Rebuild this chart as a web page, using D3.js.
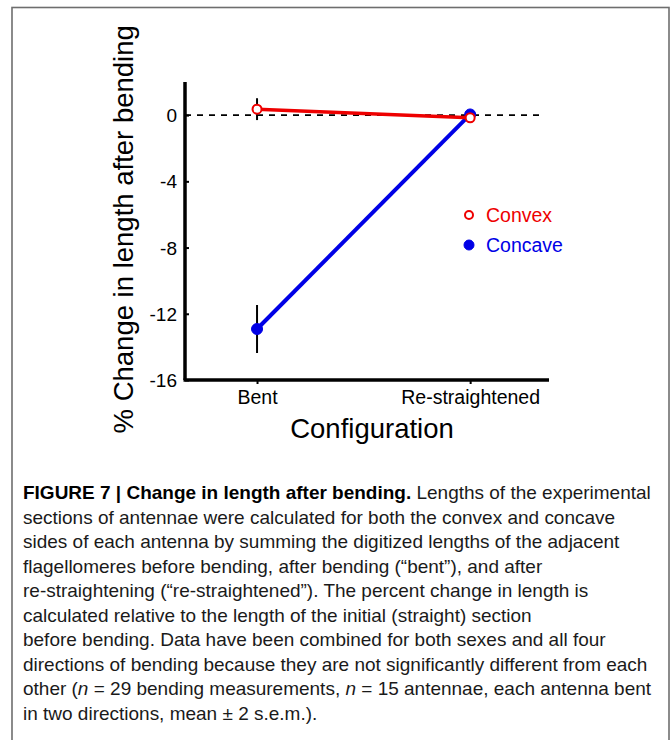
<!DOCTYPE html>
<html>
<head>
<meta charset="utf-8">
<script src="https://cdn.jsdelivr.net/npm/d3@7"></script>
<style>
  html, body { margin: 0; padding: 0; background: #fff; }
  svg { display: block; }
</style>
</head>
<body>
<svg id="chart" width="671" height="740"></svg>
<script>
const configurations = ["Bent", "Re-straightened"];
const convexMeans = [0.36, -0.16];
const convexErrors = [0.66, 0];
const concaveMeans = [-12.92, 0.04];
const concaveErrors = [1.45, 0];
const yTicks = [0, -4, -8, -12, -16];

const captionBold = "FIGURE 7 | Change in length after bending.";
const captionLines = [
    " Lengths of the experimental",
    "sections of antennae were calculated for both the convex and concave",
    "sides of each antenna by summing the digitized lengths of the adjacent",
    "flagellomeres before bending, after bending (\u201cbent\u201d), and after",
    "re-straightening (\u201cre-straightened\u201d). The percent change in length is",
    "calculated relative to the length of the initial (straight) section",
    "before bending. Data have been combined for both sexes and all four",
    "directions of bending because they are not significantly different from each",
    "other (|n| = 29 bending measurements, |n| = 15 antennae, each antenna bent",
    "in two directions, mean \u00b1 2 s.e.m.)."
];

const svg = d3.select("#chart");
const font = "'Liberation Sans', Arial, sans-serif";

// frame
svg.append("rect")
    .attr("x", 12).attr("y", 7.5)
    .attr("width", 657).attr("height", 760)
    .attr("fill", "none")
    .attr("stroke", "#6e6e6e")
    .attr("stroke-width", 1.6);

const x = d3.scaleLinear().domain([0.662, 2.37]).range([185, 549]);
const y = d3.scaleLinear().domain([-16, 2]).range([380, 82]);
const xPos = (i) => x(i + 1);

const plot = svg.append("g");

// zero reference line
plot.append("line")
    .attr("x1", x(0.662)).attr("x2", x(2.35))
    .attr("y1", y(0)).attr("y2", y(0))
    .attr("stroke", "#000")
    .attr("stroke-width", 1.6)
    .attr("stroke-dasharray", "6,6");

// y axis, ticks inward
const yAxis = d3.axisRight(y).tickValues(yTicks).tickSize(4).tickFormat("");
const yAxisG = plot.append("g").attr("transform", `translate(${x(0.662)},0)`).call(yAxis);
yAxisG.select(".domain").attr("stroke-width", 3.5).attr("d", `M0,${y(2)}V${y(-16)}`);
yAxisG.selectAll(".tick line").attr("stroke-width", 2);

yAxisG.selectAll(".tick")
    .append("text")
    .attr("x", -8)
    .attr("dy", "0.35em")
    .attr("fill", "#000")
    .attr("text-anchor", "end")
    .attr("font-family", font)
    .attr("font-size", 19)
    .text((d) => d);

// x axis
const xAxis = d3.axisBottom(x).tickValues([1, 2]).tickSize(4).tickFormat("");
const xAxisG = plot.append("g").attr("transform", `translate(0,${y(-16)})`).call(xAxis);
xAxisG.select(".domain").attr("stroke-width", 3.5).attr("d", `M${x(0.662) - 1.5},0H${x(2.37)}`);
xAxisG.selectAll(".tick line").attr("stroke-width", 2);
xAxisG.selectAll(".tick")
    .append("text")
    .attr("y", 24)
    .attr("fill", "#000")
    .attr("text-anchor", "middle")
    .attr("font-family", font)
    .attr("font-size", 19.5)
    .text((d) => configurations[d - 1]);

// axis titles
svg.append("text")
    .attr("transform", `translate(133,${y(-6.9)}) rotate(-90)`)
    .attr("text-anchor", "middle")
    .attr("font-family", font)
    .attr("font-size", 27.5)
    .text("% Change in length after bending");

svg.append("text")
    .attr("x", 372)
    .attr("y", 438)
    .attr("text-anchor", "middle")
    .attr("font-family", font)
    .attr("font-size", 27.5)
    .text("Configuration");

const series = [
    { name: "Concave", means: concaveMeans, errors: concaveErrors, color: "#0000e6", open: false },
    { name: "Convex", means: convexMeans, errors: convexErrors, color: "#ee0000", open: true }
];

const line = d3.line().x((d, i) => xPos(i)).y((d) => y(d));

// error bars
series.forEach((s) => {
    plot.selectAll(null)
        .data(s.means.map((m, i) => ({ m, e: s.errors[i], i })).filter((d) => d.e > 0))
        .join("line")
        .attr("x1", (d) => xPos(d.i)).attr("x2", (d) => xPos(d.i))
        .attr("y1", (d) => y(d.m + d.e)).attr("y2", (d) => y(d.m - d.e))
        .attr("stroke", "#000")
        .attr("stroke-width", 2);
});

series.forEach((s) => {
    plot.append("path")
        .datum(s.means)
        .attr("d", line)
        .attr("fill", "none")
        .attr("stroke", s.color)
        .attr("stroke-width", s.open ? 3.5 : 4);

    plot.selectAll(null)
        .data(s.means)
        .join("circle")
        .attr("cx", (d, i) => xPos(i))
        .attr("cy", (d) => y(d))
        .attr("r", s.open ? 4.5 : 5.5)
        .attr("fill", s.open ? "#fff" : s.color)
        .attr("stroke", s.color)
        .attr("stroke-width", s.open ? 2 : 1);
});

// legend
const legend = svg.append("g").attr("transform", "translate(469,215)");
[series[1], series[0]].forEach((s, i) => {
    const g = legend.append("g").attr("transform", `translate(0,${i * 30})`);
    g.append("circle")
        .attr("r", s.open ? 4 : 5)
        .attr("fill", s.open ? "#fff" : s.color)
        .attr("stroke", s.color)
        .attr("stroke-width", s.open ? 2 : 1);
    g.append("text")
        .attr("x", 17)
        .attr("dy", "0.36em")
        .attr("fill", s.color)
        .attr("font-family", font)
        .attr("font-size", 19.5)
        .text(s.name);
});

// caption
const caption = svg.append("g")
    .attr("font-family", "'Liberation Sans', Arial, sans-serif")
    .attr("font-size", 17.5)
    .attr("fill", "#1a1a1a");

captionLines.forEach((txt, i) => {
    const t = caption.append("text")
        .attr("x", 0)
        .attr("y", 499 + i * 24.55);
    if (i === 0) {
        t.append("tspan").attr("font-weight", "bold").attr("fill", "#000").text(captionBold);
    }
    txt.split("|").forEach((part, j) => {
        const sp = t.append("tspan").text(part);
        if (j % 2 === 1) sp.attr("font-style", "italic");
    });
});

// fit caption width to the frame (target: line 8 spans 23..648)
const refWidth = caption.selectAll("text").nodes()[7].getComputedTextLength();
const sx = 625 / refWidth;
caption.attr("transform", `translate(23,0) scale(${sx},1)`);
</script>
</body>
</html>
